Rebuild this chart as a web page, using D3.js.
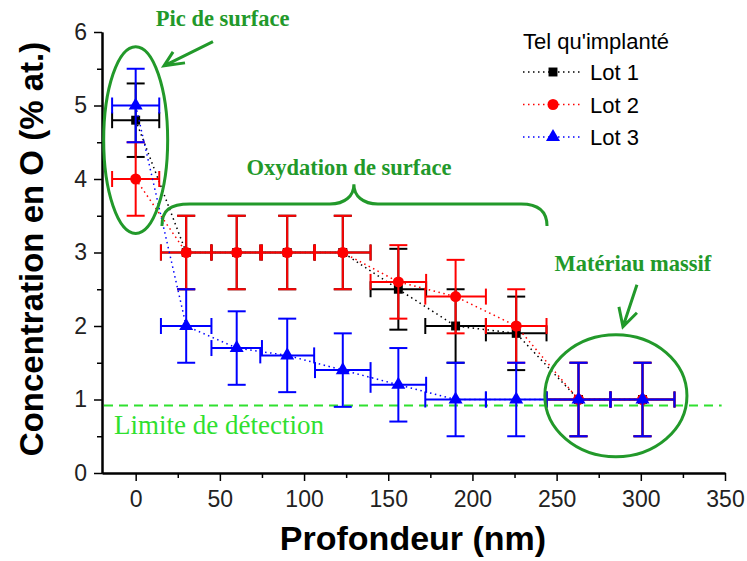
<!DOCTYPE html>
<html>
<head>
<meta charset="utf-8">
<script src="https://cdn.jsdelivr.net/npm/d3@7"></script>
<style>
    body { margin: 0; background: #fff; }
    svg { display: block; font-family: "Liberation Sans", Arial, sans-serif; }
</style>
</head>
<body>
<div id="chart"></div>
<script>
// Depth positions (nm) and their half widths
const depth = [0, 30, 60, 90, 123, 156, 190, 226, 263, 301];
const depthErr = [14, 15, 15, 16, 16.5, 16.5, 18, 18, 19, 19];

// O concentration (% at.) for each batch
const lot1 = [4.8, 3.0, 3.0, 3.0, 3.0, 2.5, 2.0, 1.9, 1.0, 1.0];
const lot1Err = [0.5, 0.5, 0.5, 0.5, 0.5, 0.55, 0.5, 0.5, 0.5, 0.5];
const lot2 = [4.0, 3.0, 3.0, 3.0, 3.0, 2.6, 2.4, 2.0, 1.0, 1.0];
const lot2Err = [0.5, 0.5, 0.5, 0.5, 0.5, 0.5, 0.5, 0.5, 0.5, 0.5];
const lot3 = [5.0, 2.0, 1.7, 1.6, 1.4, 1.2, 1.0, 1.0, 1.0, 1.0];
const lot3Err = [0.5, 0.5, 0.5, 0.5, 0.5, 0.5, 0.5, 0.5, 0.5, 0.5];

const seriesNames = ['Lot 1', 'Lot 2', 'Lot 3'];
const xTicks = [0, 50, 100, 150, 200, 250, 300, 350];
const yTicks = [0, 1, 2, 3, 4, 5, 6];
const detectionLimit = 0.92;

const width = 747, height = 561;
const margin = { top: 32, right: 22, bottom: 88, left: 102 };

const svg = d3.select('#chart').append('svg')
    .attr('width', width)
    .attr('height', height);

const x = d3.scaleLinear().domain([-20, 350]).range([margin.left, width - margin.right]);
const y = d3.scaleLinear().domain([0, 6]).range([height - margin.bottom, margin.top]);

const darkGreen = '#22992a';
const lightGreen = '#2fe02f';

// Axes (left + bottom only), ticks outside
svg.append('g')
    .attr('transform', `translate(0,${y(0)})`)
    .call(d3.axisBottom(x).tickValues(xTicks).tickSize(8).tickPadding(10).tickSizeOuter(0)
        .tickFormat(d3.format('d')));
svg.append('g')
    .attr('transform', `translate(0,${y(0)})`)
    .call(d3.axisBottom(x).tickValues(d3.range(25, 350, 50)).tickSize(5).tickFormat('').tickSizeOuter(0));

svg.append('g')
    .attr('transform', `translate(${x(-20)},0)`)
    .call(d3.axisLeft(y).tickValues(yTicks).tickSize(8).tickPadding(7).tickSizeOuter(0)
        .tickFormat(d3.format('d')));
svg.append('g')
    .attr('transform', `translate(${x(-20)},0)`)
    .call(d3.axisLeft(y).tickValues(d3.range(0.5, 6, 1)).tickSize(5).tickFormat('').tickSizeOuter(0));

svg.selectAll('.domain').attr('stroke', '#000').attr('stroke-width', 2);
svg.selectAll('.tick line').attr('stroke', '#000').attr('stroke-width', 1.5);
svg.selectAll('.tick text')
    .style('font-family', '"Liberation Sans", Arial, sans-serif')
    .style('font-size', '23px')
    .attr('fill', '#222');

// Axis titles
svg.append('text')
    .attr('x', 413)
    .attr('y', 550)
    .attr('text-anchor', 'middle')
    .style('font-size', '34px')
    .style('font-weight', 'bold')
    .text('Profondeur (nm)');

svg.append('text')
    .attr('transform', 'translate(43,249) rotate(-90)')
    .attr('text-anchor', 'middle')
    .style('font-size', '33px')
    .style('font-weight', 'bold')
    .text('Concentration en O (% at.)');

// Detection limit
svg.append('line')
    .attr('x1', x(-20) + 2)
    .attr('x2', x(348))
    .attr('y1', y(detectionLimit))
    .attr('y2', y(detectionLimit))
    .attr('stroke', lightGreen)
    .attr('stroke-width', 2)
    .attr('stroke-dasharray', '9,6');

svg.append('text')
    .attr('x', x(-12.8))
    .attr('y', y(0.53))
    .style('font-family', '"Liberation Serif", "Times New Roman", serif')
    .style('font-size', '27px')
    .attr('fill', lightGreen)
    .text('Limite de détection');

// Series
const series = [
    { name: seriesNames[0], values: lot1, err: lot1Err, color: '#000000', symbol: d3.symbolSquare, size: 80 },
    { name: seriesNames[1], values: lot2, err: lot2Err, color: '#ff0000', symbol: d3.symbolCircle, size: 95 },
    { name: seriesNames[2], values: lot3, err: lot3Err, color: '#0000ff', symbol: d3.symbolTriangle, size: 85 }
];

const line = d3.line()
    .x(d => x(d.x))
    .y(d => y(d.y));

const capY = 9, capX = 8;

series.forEach(s => {
    const pts = depth.map((d, i) => ({ x: d, y: s.values[i], ex: depthErr[i], ey: s.err[i] }));
    const g = svg.append('g');

    g.append('path')
        .datum(pts)
        .attr('d', line)
        .attr('fill', 'none')
        .attr('stroke', s.color)
        .attr('stroke-width', 1.5)
        .attr('stroke-dasharray', '1.5,3.5');

    const eb = g.selectAll('.eb').data(pts).enter().append('g');
    // vertical error
    eb.append('line')
        .attr('x1', d => x(d.x)).attr('x2', d => x(d.x))
        .attr('y1', d => y(d.y - d.ey)).attr('y2', d => y(d.y + d.ey));
    eb.append('line')
        .attr('x1', d => x(d.x) - capY).attr('x2', d => x(d.x) + capY)
        .attr('y1', d => y(d.y + d.ey)).attr('y2', d => y(d.y + d.ey));
    eb.append('line')
        .attr('x1', d => x(d.x) - capY).attr('x2', d => x(d.x) + capY)
        .attr('y1', d => y(d.y - d.ey)).attr('y2', d => y(d.y - d.ey));
    // horizontal error
    eb.append('line')
        .attr('x1', d => x(d.x - d.ex)).attr('x2', d => x(d.x + d.ex))
        .attr('y1', d => y(d.y)).attr('y2', d => y(d.y));
    eb.append('line')
        .attr('x1', d => x(d.x - d.ex)).attr('x2', d => x(d.x - d.ex))
        .attr('y1', d => y(d.y) - capX).attr('y2', d => y(d.y) + capX);
    eb.append('line')
        .attr('x1', d => x(d.x + d.ex)).attr('x2', d => x(d.x + d.ex))
        .attr('y1', d => y(d.y) - capX).attr('y2', d => y(d.y) + capX);
    eb.selectAll('line')
        .attr('stroke', s.color)
        .attr('stroke-width', 2);

    g.selectAll('.pt').data(pts).enter().append('path')
        .attr('transform', d => `translate(${x(d.x)},${y(d.y)})`)
        .attr('d', d3.symbol().type(s.symbol).size(s.size))
        .attr('fill', s.color);
});

// Legend
const legend = svg.append('g').attr('transform', 'translate(523,0)');
legend.append('text')
    .attr('x', 0)
    .attr('y', 49)
    .style('font-size', '22px')
    .text("Tel qu'implanté");

series.forEach((s, i) => {
    const ly = 72 + i * 32.5;
    legend.append('line')
        .attr('x1', 0).attr('x2', 59)
        .attr('y1', ly).attr('y2', ly)
        .attr('stroke', s.color)
        .attr('stroke-width', 1.3)
        .attr('stroke-dasharray', '1.5,3.5');
    legend.append('path')
        .attr('transform', `translate(30,${ly})`)
        .attr('d', d3.symbol().type(s.symbol).size(s.size))
        .attr('fill', s.color);
    legend.append('text')
        .attr('x', 67)
        .attr('y', ly + 8)
        .style('font-size', '22px')
        .text(s.name);
});

// Annotations
const ann = svg.append('g')
    .attr('fill', 'none')
    .attr('stroke', darkGreen)
    .attr('stroke-width', 3);

// surface peak ellipse
ann.append('ellipse')
    .attr('cx', x(0)).attr('cy', y(4.53))
    .attr('rx', x(19) - x(0)).attr('ry', y(0) - y(1.27));

// bulk material ellipse
ann.append('ellipse')
    .attr('cx', x(285.2)).attr('cy', y(1.05))
    .attr('rx', x(42.2) - x(0)).attr('ry', y(0) - y(0.83));

// arrows
const arrows = [
    { from: [45.9, 5.87], tip: [16.8, 5.54], w1: [22.2, 5.73], w2: [29.3, 5.58] },
    { from: [297.7, 2.56], tip: [289.4, 1.99], w1: [287.0, 2.26], w2: [297.7, 2.18] }
];
arrows.forEach(a => {
    ann.append('path')
        .attr('stroke-linejoin', 'miter')
        .attr('d', `M${x(a.from[0])},${y(a.from[1])} L${x(a.tip[0])},${y(a.tip[1])}
            M${x(a.w1[0])},${y(a.w1[1])} L${x(a.tip[0])},${y(a.tip[1])} L${x(a.w2[0])},${y(a.w2[1])}`);
});

// curly brace over the oxidised region
const xl = x(15.6), xr = x(244.3), xm = x(129.6);
const yb = y(3.66), yt = y(3.93), ye = y(3.36);
ann.append('path')
    .attr('d', `M${xl},${ye} C${xl},${yb + 6} ${xl + 8},${yb} ${xl + 28},${yb}
        L${xm - 24},${yb} C${xm - 9},${yb} ${xm},${yb - 8} ${xm},${yt}
        C${xm},${yb - 8} ${xm + 9},${yb} ${xm + 24},${yb}
        L${xr - 26},${yb} C${xr - 8},${yb} ${xr},${yb + 8} ${xr},${ye}`);

const annText = [
    { text: 'Pic de surface', x: 51.7, y: 6.08 },
    { text: 'Oxydation de surface', x: 126.7, y: 4.05 },
    { text: 'Matériau massif', x: 295.3, y: 2.75 }
];
svg.selectAll('.ann-text').data(annText).enter().append('text')
    .attr('x', d => x(d.x))
    .attr('y', d => y(d.y))
    .attr('text-anchor', 'middle')
    .style('font-family', '"Liberation Serif", "Times New Roman", serif')
    .style('font-size', '22.5px')
    .style('font-weight', 'bold')
    .attr('fill', darkGreen)
    .text(d => d.text);
</script>
</body>
</html>
